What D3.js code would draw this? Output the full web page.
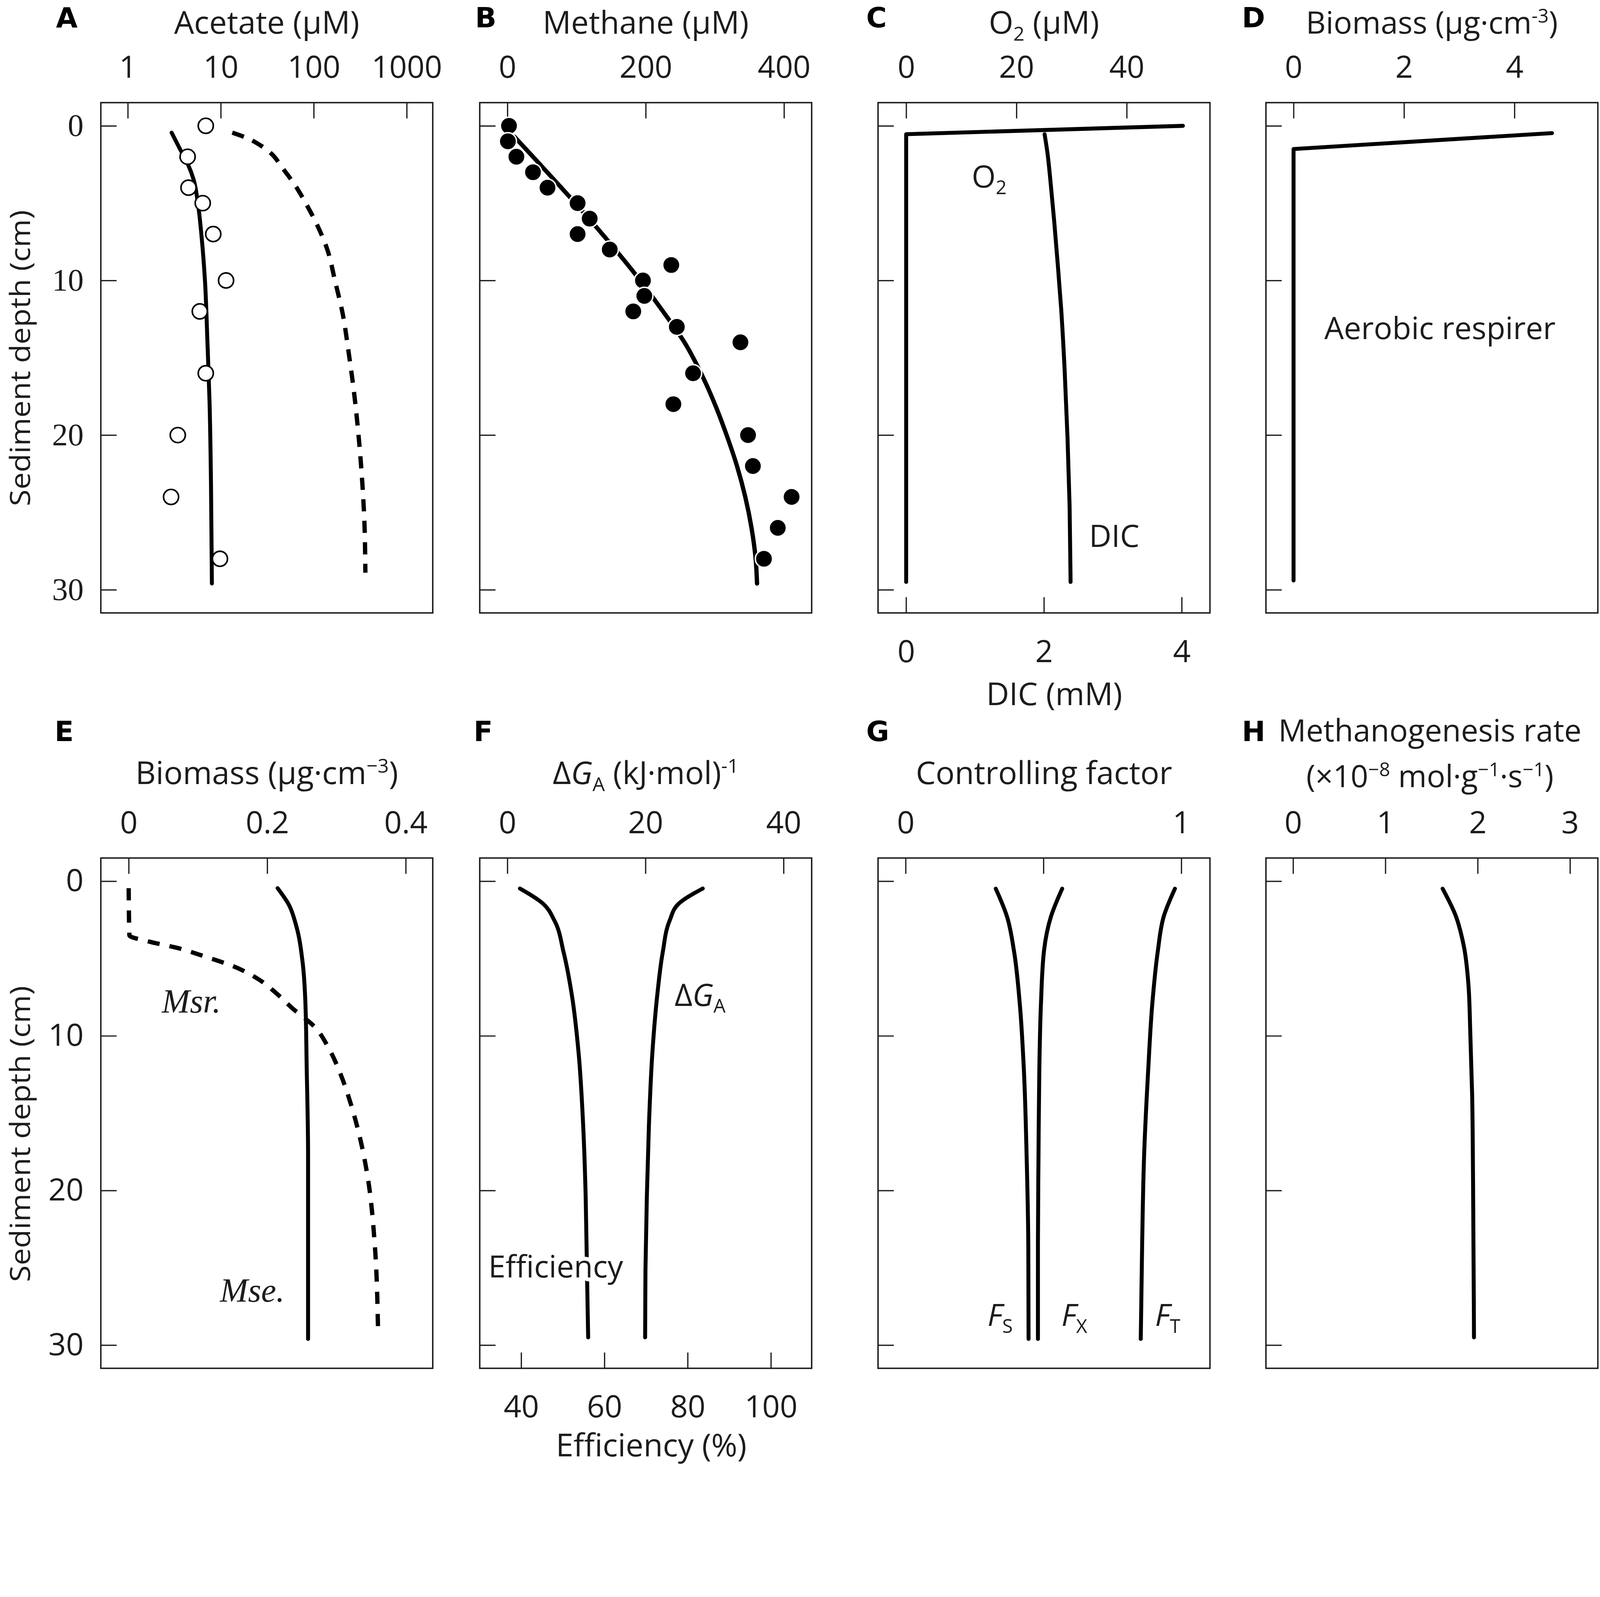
<!DOCTYPE html>
<html>
<head>
<meta charset="utf-8">
<script src="https://cdn.jsdelivr.net/npm/d3@7"></script>
<style>
  html, body { margin: 0; padding: 0; background: #fff; overflow: hidden; }
  svg { display: block; }
</style>
</head>
<body>
<div id="chart"></div>
<script>
// ---- values ----
const depthTicks = [0, 10, 20, 30];

// A: acetate
const acetateTicks = [1, 10, 100, 1000];
const acetateObsDepth = [0, 2, 4, 5, 7, 10, 12, 16, 20, 24, 28];
const acetateObs = [6.9, 4.4, 4.5, 6.4, 8.3, 11.4, 5.95, 6.9, 3.45, 2.92, 9.8];
const acetateModelDepth = [0.44, 1.4, 2.45, 3.5, 5.06, 7.4, 10, 13.9, 17.8, 23.1, 29.6];
const acetateModel = [2.96, 3.57, 4.41, 5.12, 5.69, 6.27, 6.76, 7.18, 7.57, 7.85, 8.03];
const acetateDashDepth = [0.44, 0.76, 1.28, 1.8, 2.7, 3.76, 5.06, 6.37, 8.06, 10, 12.1, 14.7, 17.3, 19.9, 23.1, 25.7, 28.9];
const acetateDash = [13.3, 18.6, 27, 35, 45.7, 61.7, 83, 108, 141, 169, 204, 238, 272, 302, 333, 351, 359];

// B: methane
const methaneTicks = [0, 200, 400];
const methaneObsDepth = [0, 1, 2, 3, 4, 5, 6, 7, 8, 9, 10, 11, 12, 13, 14, 16, 18, 20, 22, 24, 26, 28];
const methaneObs = [2.3, 0.7, 13, 37, 58, 101.5, 119, 101.5, 148, 237, 196, 198, 182, 245, 337, 268.5, 240, 348, 355, 411, 391, 371];
const methaneModelDepth = [0.7, 2, 4, 6, 8, 10, 12, 13, 14, 16, 18, 20, 22, 24, 26, 28, 29.6];
const methaneModel = [10, 37, 78, 118, 156, 192, 225, 241, 256, 280, 300, 317, 332, 344, 353, 359, 361];

// C: O2 and DIC
const o2Ticks = [0, 20, 40];
const dicTicks = [0, 2, 4];
const o2Depth = [0, 0.54, 29.5];
const o2Conc = [50.2, 0, 0];
const dicDepth = [0.54, 1.7, 3.8, 6.2, 8.9, 11.8, 15.7, 20.2, 24.6, 29.5];
const dicConc = [2.01, 2.05, 2.1, 2.15, 2.2, 2.25, 2.3, 2.343, 2.373, 2.387];

// D: aerobic respirer biomass
const aerobicTicks = [0, 2, 4];
const aerobicDepth = [0.47, 1.5, 29.4];
const aerobicBiomass = [4.68, 0, 0];

// E: biomass of Mse. (solid) and Msr. (dashed)
const biomassTicks = [0, 0.2, 0.4];
const mseDepth = [0.45, 1.5, 2.9, 5.2, 7.7, 12, 17.7, 29.6];
const mseBiomass = [0.215, 0.231, 0.242, 0.251, 0.255, 0.257, 0.259, 0.259];
const msrDepth = [0.45, 3.5, 3.9, 4.3, 4.9, 5.5, 6.3, 7.2, 8.2, 9.4, 10.9, 12.6, 14.3, 16.8, 19.4, 23.3, 29];
const msrBiomass = [0, 0.001, 0.029, 0.069, 0.112, 0.151, 0.186, 0.212, 0.236, 0.268, 0.29, 0.307, 0.32, 0.335, 0.346, 0.355, 0.36];

// F: free energy and efficiency
const dgTicks = [0, 20, 40];
const effTicks = [40, 60, 80, 100];
const fDepth = [0.47, 1.46, 2.55, 4.6, 7.4, 11.1, 15.8, 20.4, 25.1, 29.5];
const dgA = [28.3, 24.8, 23.5, 22.5, 21.7, 21.0, 20.5, 20.2, 20.0, 19.95];
const efficiency = [39.7, 45.3, 48.0, 50.2, 52.2, 53.8, 54.9, 55.5, 55.8, 56.1];

// G: controlling factors
const factorTicks = [0, 0.5, 1];
const gDepth = [0.48, 2.3, 4.5, 7.9, 12.2, 17.8, 23.5, 29.6];
const factorS = [0.327, 0.368, 0.393, 0.414, 0.429, 0.439, 0.445, 0.446];
const factorX = [0.568, 0.527, 0.502, 0.491, 0.485, 0.482, 0.48, 0.48];
const factorT = [0.977, 0.936, 0.915, 0.895, 0.88, 0.865, 0.858, 0.853];

// H: methanogenesis rate
const rateTicks = [0, 1, 2, 3];
const rateDepth = [0.48, 2.2, 4.2, 6.7, 9.8, 13.8, 19.4, 29.5];
const rate = [1.62, 1.76, 1.85, 1.9, 1.92, 1.94, 1.95, 1.96];

// ---- layout ----
const W = 4459, H = 4088;
const colX = [281, 1337, 2447, 3528];
const rowY = [286, 2391];
const panelW = 925, panelH = 1422;
const depthDomain = [-1.5, 31.5];
const sans = "'Open Sans', 'Noto Sans', sans-serif";
const serif = "'Liberation Serif', 'DejaVu Serif', serif";
const ink = "#1c1c1c";
const lineW = 11, dashW = 12;
const tickFs = 86;

// scale with the window so nothing is cut when the viewport is narrower
const svg = d3.select("#chart").append("svg")
    .attr("viewBox", `0 0 ${W} ${H}`)
    .attr("preserveAspectRatio", "xMinYMin meet")
    .style("width", "100vw")
    .style("height", "100vh");

svg.append("rect").attr("width", W).attr("height", H).attr("fill", "#fff");

// text with sub / superscripts, parts = [{t, sup, sub, it}]
function rich(sel, parts, fs) {
    let shift = 0;
    parts.forEach(p => {
        let target = p.sup ? -0.36 * fs : p.sub ? 0.22 * fs : 0;
        let ts = sel.append("tspan")
            .attr("dy", target - shift)
            .text(p.t);
        if (p.sup || p.sub) ts.attr("font-size", fs * 0.62);
        if (p.it) ts.attr("font-style", "italic");
        shift = target;
    });
    return sel;
}

function styleAxis(g, font, size) {
    g.attr("font-family", font).attr("font-size", size).attr("color", ink);
    g.select(".domain").remove();
    g.selectAll(".tick line").attr("stroke-width", 3.5);
    g.selectAll(".tick text").attr("fill", ink);
}

function makePanel(col, row, xDomain, xTicks, opts) {
    opts = opts || {};
    let left = colX[col], top = rowY[row];
    let g = svg.append("g").attr("transform", `translate(${left},${top})`);
    let y = d3.scaleLinear().domain(depthDomain).range([0, panelH]);
    let x = (opts.log ? d3.scaleLog() : d3.scaleLinear()).domain(xDomain).range([0, panelW]);

    let yAxis = d3.axisLeft(y).tickValues(depthTicks).tickSize(-44).tickPadding(48);
    if (!opts.yLabels) yAxis.tickFormat("");
    g.append("g").call(yAxis).call(a => styleAxis(a, opts.yFont || sans, opts.yFont ? 88 : tickFs));

    let xAxis = d3.axisTop(x).tickValues(xTicks).tickSize(-44).tickPadding(69)
        .tickFormat(opts.fmt || (d => d));
    g.append("g").call(xAxis).call(a => styleAxis(a, sans, tickFs));

    g.append("rect")
        .attr("width", panelW)
        .attr("height", panelH)
        .attr("fill", "none")
        .attr("stroke", ink)
        .attr("stroke-width", 4);

    return { g: g, x: x, y: y, left: left, top: top };
}

function bottomAxis(p, scale, ticks) {
    p.g.append("g")
        .attr("transform", `translate(0,${panelH})`)
        .call(d3.axisBottom(scale).tickValues(ticks).tickSize(-44).tickPadding(76).tickFormat(d => d))
        .call(a => styleAxis(a, sans, tickFs));
}

function drawLine(p, depths, values, xs, opts) {
    opts = opts || {};
    let line = d3.line()
        .x(d => xs(d[1]))
        .y(d => p.y(d[0]))
        .curve(opts.curve || d3.curveMonotoneY);
    let path = p.g.append("path")
        .datum(d3.zip(depths, values))
        .attr("d", line)
        .attr("fill", "none")
        .attr("stroke", "#000")
        .attr("stroke-width", opts.width || lineW)
        .attr("stroke-linecap", opts.dash ? "butt" : "round")
        .attr("stroke-linejoin", "round");
    if (opts.dash) path.attr("stroke-dasharray", opts.dash);
    return path;
}

function label(x, y, parts, fs, opts) {
    opts = opts || {};
    let t = svg.append("text")
        .attr("x", x)
        .attr("y", y)
        .attr("font-family", opts.font || sans)
        .attr("font-size", fs)
        .attr("fill", ink)
        .attr("text-anchor", opts.anchor || "start");
    if (opts.it) t.attr("font-style", "italic");
    if (opts.halo) {
        t.attr("stroke", "#fff").attr("stroke-width", 22)
            .attr("stroke-linejoin", "round").attr("paint-order", "stroke");
    }
    return rich(t, typeof parts === "string" ? [{ t: parts }] : parts, fs);
}

function panelLetter(x, y, s) {
    svg.append("text")
        .attr("x", x)
        .attr("y", y)
        .attr("font-family", "'DejaVu Sans', 'Liberation Sans', sans-serif")
        .attr("font-weight", "bold")
        .attr("font-size", 78)
        .attr("fill", "#000")
        .text(s);
}

const centre = col => colX[col] + panelW / 2;
const topTitleY = 94, topLetterY = 76;

// ---- A ----
let pA = makePanel(0, 0, [0.513, 1905], acetateTicks, { log: true, yLabels: true, yFont: serif });
drawLine(pA, acetateModelDepth, acetateModel, pA.x);
drawLine(pA, acetateDashDepth, acetateDash, pA.x, { width: dashW, dash: "34,26" });
pA.g.selectAll(".obsA")
    .data(d3.zip(acetateObsDepth, acetateObs))
    .enter()
    .append("circle")
    .attr("cx", d => pA.x(d[1]))
    .attr("cy", d => pA.y(d[0]))
    .attr("r", 21)
    .attr("fill", "#fff")
    .attr("stroke", "#000")
    .attr("stroke-width", 4.5);
panelLetter(156, topLetterY, "A");
label(centre(0), topTitleY, "Acetate (μM)", 88, { anchor: "middle" });

// ---- B ----
let pB = makePanel(1, 0, [-40, 440], methaneTicks);
drawLine(pB, methaneModelDepth, methaneModel, pB.x, { width: 12 });
pB.g.selectAll(".obsB")
    .data(d3.zip(methaneObsDepth, methaneObs))
    .enter()
    .append("circle")
    .attr("cx", d => pB.x(d[1]))
    .attr("cy", d => pB.y(d[0]))
    .attr("r", 24)
    .attr("fill", "#000")
    .attr("stroke", "#fff")
    .attr("stroke-width", 4);
panelLetter(1324, topLetterY, "B");
label(centre(1), topTitleY, "Methane (μM)", 88, { anchor: "middle" });

// ---- C ----
let pC = makePanel(2, 0, [-5.1, 55.1], o2Ticks);
let dicX = d3.scaleLinear().domain([-0.407, 4.41]).range([0, panelW]);
bottomAxis(pC, dicX, dicTicks);
drawLine(pC, o2Depth, o2Conc, pC.x, { curve: d3.curveLinear });
drawLine(pC, dicDepth, dicConc, dicX);
panelLetter(2414, topLetterY, "C");
label(centre(2), topTitleY, [{ t: "O" }, { t: "2", sub: true }, { t: " (μM)" }], 88, { anchor: "middle" });
label(2938, 1965, "DIC (mM)", 88, { anchor: "middle" });
label(pC.left + 261, pC.top + 236, [{ t: "O" }, { t: "2", sub: true }], 86);
label(pC.left + 588, pC.top + 1238, "DIC", 86);

// ---- D ----
let pD = makePanel(3, 0, [-0.5, 5.51], aerobicTicks);
drawLine(pD, aerobicDepth, aerobicBiomass, pD.x, { curve: d3.curveLinear });
panelLetter(3461, topLetterY, "D");
label(centre(3), topTitleY, [{ t: "Biomass (μg·cm" }, { t: "-3", sup: true }, { t: ")" }], 86, { anchor: "middle" });
label(pD.left + 485, pD.top + 659, "Aerobic respirer", 86, { anchor: "middle" });

// ---- E ----
let pE = makePanel(0, 1, [-0.0402, 0.439], biomassTicks, { yLabels: true });
drawLine(pE, mseDepth, mseBiomass, pE.x);
drawLine(pE, msrDepth, msrBiomass, pE.x, { width: dashW, dash: "34,28" });
panelLetter(152, 2065, "E");
label(centre(0), 2185, [{ t: "Biomass (μg·cm" }, { t: "−3", sup: true }, { t: ")" }], 88, { anchor: "middle" });
label(pE.left + 170, pE.top + 431, "Msr.", 94, { font: serif, it: true });
label(pE.left + 332, pE.top + 1236, "Mse.", 94, { font: serif, it: true });

// ---- F ----
let pF = makePanel(1, 1, [-4, 44.07], dgTicks);
let effX = d3.scaleLinear().domain([30.05, 109.8]).range([0, panelW]);
bottomAxis(pF, effX, effTicks);
drawLine(pF, fDepth, dgA, pF.x);
drawLine(pF, fDepth, efficiency, effX);
panelLetter(1320, 2065, "F");
label(centre(1), 2185, [{ t: "Δ" }, { t: "G", it: true }, { t: "A", sub: true }, { t: " (kJ·mol)" }, { t: "-1", sup: true }], 88, { anchor: "middle" });
label(1815, 4058, "Efficiency (%)", 88, { anchor: "middle" });
label(pF.left + 543, pF.top + 412, [{ t: "Δ" }, { t: "G", it: true }, { t: "A", sub: true }], 86);
label(pF.left + 24, pF.top + 1169, "Efficiency", 86, { halo: true });

// ---- G ----
let pG = makePanel(2, 1, [-0.1, 1.104], factorTicks, { fmt: d => (d === 0.5 ? "" : d) });
drawLine(pG, gDepth, factorS, pG.x);
drawLine(pG, gDepth, factorX, pG.x);
drawLine(pG, gDepth, factorT, pG.x);
panelLetter(2414, 2065, "G");
label(centre(2), 2185, "Controlling factor", 88, { anchor: "middle" });
label(pG.left + 305, pG.top + 1304, [{ t: "F", it: true }, { t: "S", sub: true }], 86);
label(pG.left + 511, pG.top + 1304, [{ t: "F", it: true }, { t: "X", sub: true }], 86);
label(pG.left + 772, pG.top + 1304, [{ t: "F", it: true }, { t: "T", sub: true }], 86);

// ---- H ----
let pH = makePanel(3, 1, [-0.294, 3.302], rateTicks);
drawLine(pH, rateDepth, rate, pH.x);
panelLetter(3461, 2065, "H");
label(3985, 2066, "Methanogenesis rate", 86, { anchor: "middle" });
label(3985, 2194, [{ t: "(×10" }, { t: "−8", sup: true }, { t: " mol·g" }, { t: "−1", sup: true },
    { t: "·s" }, { t: "−1", sup: true }, { t: ")" }], 86, { anchor: "middle" });

// y-axis titles
[998, 3160].forEach(cy => {
    svg.append("text")
        .attr("transform", `translate(84,${cy}) rotate(-90)`)
        .attr("text-anchor", "middle")
        .attr("font-family", sans)
        .attr("font-size", 78)
        .attr("fill", ink)
        .attr("textLength", 825)
        .attr("lengthAdjust", "spacingAndGlyphs")
        .text("Sediment depth (cm)");
});
</script>
</body>
</html>
